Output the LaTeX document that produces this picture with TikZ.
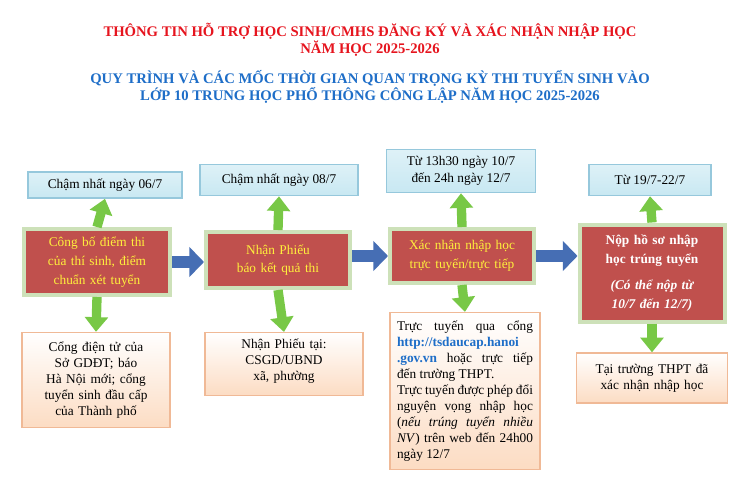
\documentclass[tikz,border=0pt]{standalone}
\usepackage{fontspec}
\setmainfont{Liberation Serif}
\usetikzlibrary{arrows.meta}
\definecolor{tred}{RGB}{230,20,30}
\definecolor{tblue}{RGB}{30,110,200}
\definecolor{redbox}{RGB}{192,80,77}
\definecolor{redbord}{RGB}{205,225,185}
\definecolor{bluebox}{RGB}{200,232,242}
\definecolor{bluebord}{RGB}{150,200,220}
\definecolor{peach}{RGB}{252,220,195}
\definecolor{peachbord}{RGB}{240,185,150}
\definecolor{garrow}{RGB}{120,200,70}
\definecolor{barrow}{RGB}{70,110,180}
\definecolor{ytext}{RGB}{255,240,60}
\begin{document}
\begin{tikzpicture}[x=0.75pt,y=-0.75pt,
 title/.style={font=\bfseries\fontsize{11}{13}\selectfont,align=center},
 topbox/.style={draw=bluebord,line width=1.2pt,top color=bluebox!60!white,bottom color=bluebox,align=center,font=\fontsize{10}{12.5}\selectfont,inner sep=2pt},
 redb/.style={draw=redbord,fill=redbox,line width=3pt,align=center,text=ytext,font=\fontsize{10}{14}\selectfont,inner sep=2pt},
 botbox/.style={draw=peachbord,line width=1pt,top color=white,bottom color=peach,font=\fontsize{10}{12}\selectfont,inner sep=3pt},
 garr/.style={draw=garrow!70!black,line width=0.3pt,fill=garrow},
 barr/.style={barrow,line width=9pt,-{Triangle[width=22pt,length=11pt]}}]
\useasboundingbox (0,0) rectangle (740,485);
\fill[white] (0,0) rectangle (740,485);
\node[title,text=tred] (t1) at (370,40) {THÔNG TIN HỖ TRỢ HỌC SINH/CMHS ĐĂNG KÝ VÀ XÁC NHẬN NHẬP HỌC\\NĂM HỌC 2025-2026};
\node[title,text=tblue] (t2) at (370,87) {QUY TRÌNH VÀ CÁC MỐC THỜI GIAN QUAN TRỌNG KỲ THI TUYỂN SINH VÀO\\LỚP 10 TRUNG HỌC PHỔ THÔNG CÔNG LẬP NĂM HỌC 2025-2026};
% top boxes
\node[topbox,minimum width=154*0.75pt,minimum height=26*0.75pt] (a1) at (105,185) {Chậm nhất ngày 06/7};
\node[topbox,minimum width=158*0.75pt,minimum height=31*0.75pt] (a2) at (279,180) {Chậm nhất ngày 08/7};
\node[topbox,minimum width=149*0.75pt,minimum height=43*0.75pt] (a3) at (461,171) {Từ 13h30 ngày 10/7\\đến 24h ngày 12/7};
\node[topbox,minimum width=122*0.75pt,minimum height=31*0.75pt] (a4) at (650,180) {Từ 19/7-22/7};
% red boxes
\node[redb,minimum width=146*0.75pt,minimum height=66*0.75pt,text width=136*0.75pt] (r1) at (97,262) {Công bố điểm thi của thí sinh, điểm chuẩn xét tuyển};
\node[redb,minimum width=144*0.75pt,minimum height=56*0.75pt,text width=136*0.75pt,anchor=north] (r2) at (278,230) {Nhận Phiếu báo kết quả thi};
\node[redb,minimum width=144*0.75pt,minimum height=54*0.75pt,text width=136*0.75pt] (r3) at (462,256) {Xác nhận nhập học trực tuyến/trực tiếp};
\node[redb,minimum width=145*0.75pt,minimum height=97*0.75pt,text width=136*0.75pt,text=white,font=\bfseries\fontsize{10}{14}\selectfont] (r4) at (652,273) {Nộp hồ sơ nhập học trúng tuyển\\[6pt]\textit{(Có thể nộp từ 10/7 đến 12/7)}};
% bottom boxes
\node[botbox,minimum width=148*0.75pt,minimum height=95*0.75pt,text width=128*0.75pt,align=center] (b1) at (96,380) {Cổng điện tử của Sở GDĐT; báo Hà Nội mới; cổng tuyển sinh đầu cấp của Thành phố};
\node[botbox,minimum width=158*0.75pt,minimum height=63*0.75pt,text width=140*0.75pt,align=center,anchor=north] (b2) at (284,332) {\\[-10pt]Nhận Phiếu tại:\\CSGD/UBND xã, phường};
\node[botbox,minimum width=150*0.75pt,minimum height=157*0.75pt,text width=136*0.75pt,align=justify] (b3) at (465,391) {Trực tuyến qua cổng \textcolor{tblue}{\textbf{http://tsdaucap.hanoi .gov.vn}} hoặc trực tiếp đến trường THPT.\\ Trực tuyến được phép đổi nguyện vọng nhập học (\textit{nếu trúng tuyển nhiều NV}) trên web đến 24h00 ngày 12/7};
\node[botbox,minimum width=151*0.75pt,minimum height=50*0.75pt,text width=136*0.75pt,align=center] (b4) at (652,378) {Tại trường THPT đã xác nhận nhập học};
% green arrows
\foreach \r/\t in {r1/a1,r2/a2,r3/a3,r4/a4}{
  \draw[garrow,line width=7pt,-{Triangle[width=17pt,length=11pt]}] (\r.north) -- (\t.south);
}
\foreach \r/\t in {r1/b1,r2/b2,r3/b3,r4/b4}{
  \draw[garrow,line width=7pt,-{Triangle[width=17pt,length=11pt]}] (\r.south) -- (\t.north);
}
% blue arrows
\draw[barr] (r1.east) -- (r2.west|-r1.east);
\draw[barr] (r2.east|-r3.east) -- (r3.west);
\draw[barr] (r3.east) -- (r4.west|-r3.east);
\end{tikzpicture}
\end{document}
